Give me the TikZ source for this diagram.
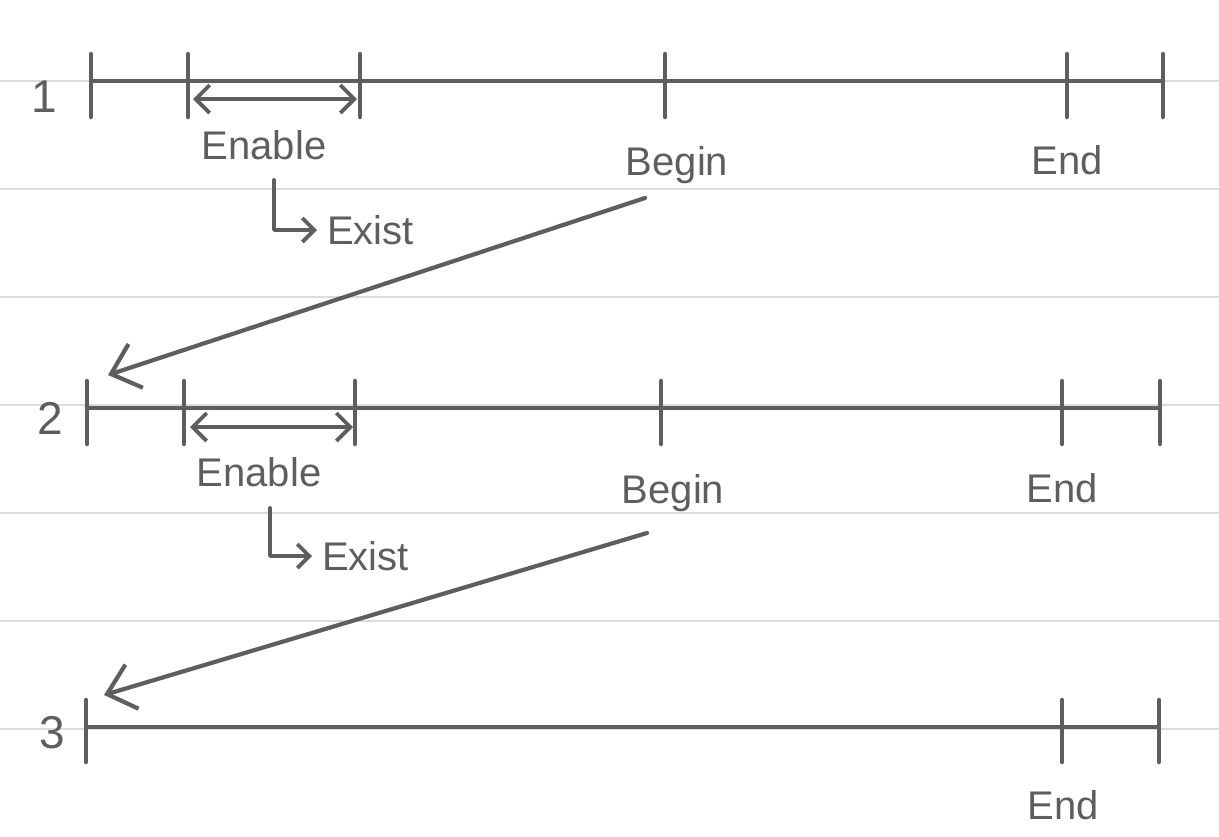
\documentclass[tikz,border=0pt]{standalone}
\usepackage{fontspec}
\setmainfont{Liberation Sans}
\usetikzlibrary{arrows.meta}
\definecolor{ink}{HTML}{5E5E5E}
\definecolor{rulecol}{HTML}{DCDCDC}
\begin{document}
\begin{tikzpicture}[x=1pt,y=-1pt,
  rule/.style={draw=rulecol,line width=1.6pt},
  tl/.style={draw=ink,line width=4.5pt,line cap=round},
  tick/.style={draw=ink,line width=4.5pt,line cap=round},
  span/.style={draw=ink,line width=3.8pt,line cap=round,{Straight Barb[length=14pt,width=28pt,line width=3.8pt]}-{Straight Barb[length=14pt,width=28pt,line width=3.8pt]}},
  bigarrow/.style={draw=ink,line width=4.2pt,line cap=round,-{Straight Barb[length=26pt,width=46pt,line width=4.2pt]}},
  smallarrow/.style={draw=ink,line width=3.8pt,line cap=round,line join=round,-{Straight Barb[length=12pt,width=24pt,line width=3.8pt]}},
  lbl/.style={text=ink,font=\fontsize{40}{40}\selectfont,inner sep=0pt},
  num/.style={text=ink,font=\fontsize{46}{46}\selectfont,inner sep=0pt}]
\useasboundingbox (0,0) rectangle (1219,836);
% ruled paper
\foreach \yy in {81,189,297,405,513,621,729}
  \draw[rule] (0,\yy) -- (1219,\yy);

% ---------- timeline 1 ----------
\coordinate (a1) at (91,81);
\coordinate (b1) at (188,81);
\coordinate (c1) at (360,81);
\coordinate (d1) at (665,81);
\coordinate (e1) at (1067,81);
\coordinate (f1) at (1163,81);
\draw[tl] (a1) -- (f1);
\foreach \t in {a1,b1,c1,d1,e1,f1}
  \draw[tick] ([yshift=27pt]\t) -- ([yshift=-36pt]\t);
\node[num] (n1) at (44,97) {1};
\coordinate (s1l) at (193,99);
\coordinate (s1r) at (357,99);
\draw[span] (s1l) -- (s1r);
\node[lbl] (en1) at (264,145) {Enable};
\node[lbl,anchor=west] (ex1) at (327,230) {Exist};
\coordinate (lc1) at (274,180);
\draw[smallarrow] (lc1) |- ([xshift=-10pt]ex1.west);
\node[lbl] (bg1) at (677,165) {Begin};
\node[lbl] (end1) at (1067,160) {End};

% ---------- timeline 2 ----------
\coordinate (a2) at (87,408);
\coordinate (b2) at (184,408);
\coordinate (c2) at (355,408);
\coordinate (d2) at (661,408);
\coordinate (e2) at (1062,408);
\coordinate (f2) at (1160,408);
\draw[tl] (a2) -- (f2);
\foreach \t in {a2,b2,c2,d2,e2,f2}
  \draw[tick] ([yshift=27pt]\t) -- ([yshift=-36pt]\t);
\node[num] (n2) at (50,418) {2};
\coordinate (s2l) at (190,427);
\coordinate (s2r) at (353,427);
\draw[span] (s2l) -- (s2r);
\node[lbl] (en2) at (259,472) {Enable};
\node[lbl,anchor=west] (ex2) at (322,556) {Exist};
\coordinate (lc2) at (270,508);
\draw[smallarrow] (lc2) |- ([xshift=-10pt]ex2.west);
\node[lbl] (bg2) at (673,493) {Begin};
\node[lbl] (end2) at (1062,488) {End};

% ---------- timeline 3 ----------
\coordinate (a3) at (86,727);
\coordinate (e3) at (1062,727);
\coordinate (f3) at (1159,727);
\draw[tl] (a3) -- (f3);
\foreach \t in {a3,e3,f3}
  \draw[tick] ([yshift=27pt]\t) -- ([yshift=-35pt]\t);
\node[num] (n3) at (52,733) {3};
\node[lbl] (end3) at (1063,805) {End};

% ---------- jump arrows ----------
\coordinate (j1s) at (645,198);
\coordinate (j1e) at (108,375);
\draw[bigarrow] (j1s) -- (j1e);
\coordinate (j2s) at (647,533);
\coordinate (j2e) at (104,695);
\draw[bigarrow] (j2s) -- (j2e);
\end{tikzpicture}
\end{document}
